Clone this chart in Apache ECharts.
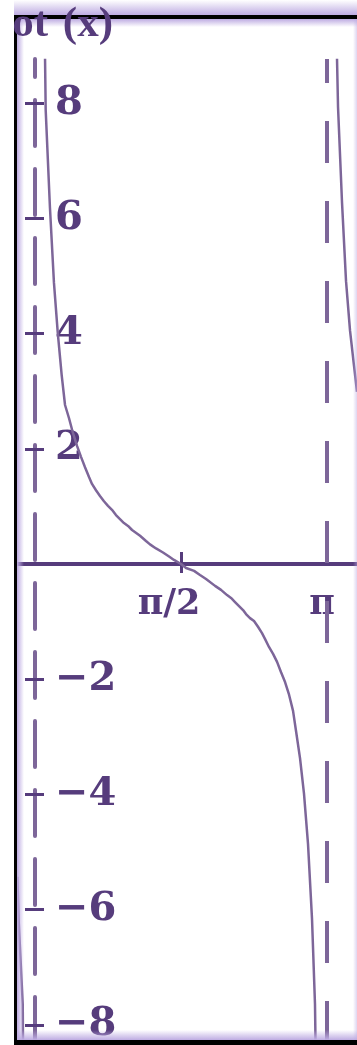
<!DOCTYPE html>
<html>
<head>
<meta charset="utf-8">
<script src="https://cdn.jsdelivr.net/npm/echarts@6/dist/echarts.min.js"></script>
<style>
  html, body { margin: 0; padding: 0; background: #ffffff; }
  #chart { width: 357px; height: 1045px; }
</style>
</head>
<body>
<div id="chart"></div>
<script>
// Branches of y = cot(x), sampled as [x (radians), y]
const branchLeft = [
  [-0.190, -5.43], [-0.175, -6.22], [-0.132, -7.64], [-0.129, -8.32]
];
const branchMain = [
  [0.108, 8.77], [0.115, 7.88], [0.161, 6.18], [0.204, 4.88], [0.244, 4.03],
  [0.287, 3.28], [0.323, 2.76], [0.366, 2.53], [0.409, 2.27], [0.452, 2.05],
  [0.495, 1.86], [0.538, 1.68], [0.581, 1.51], [0.613, 1.39], [0.656, 1.28],
  [0.699, 1.18], [0.742, 1.09], [0.785, 1.01], [0.828, 0.94], [0.871, 0.85],
  [0.914, 0.78], [0.957, 0.71], [1.001, 0.66], [1.044, 0.59], [1.130, 0.49],
  [1.194, 0.40], [1.237, 0.34], [1.302, 0.27], [1.377, 0.20], [1.442, 0.13],
  [1.495, 0.07], [1.571, 0.00], [1.625, -0.07], [1.711, -0.12], [1.775, -0.19],
  [1.840, -0.26], [1.937, -0.38], [2.001, -0.45], [2.066, -0.54], [2.109, -0.59],
  [2.152, -0.66], [2.195, -0.73], [2.238, -0.80], [2.270, -0.87], [2.313, -0.94],
  [2.356, -0.99], [2.399, -1.09], [2.442, -1.20], [2.474, -1.30], [2.517, -1.44],
  [2.561, -1.56], [2.604, -1.70], [2.647, -1.88], [2.690, -2.05], [2.733, -2.27],
  [2.776, -2.55], [2.808, -2.90], [2.851, -3.37], [2.894, -3.99], [2.937, -4.86],
  [2.980, -6.16], [3.012, -7.64], [3.018, -8.32]
];
const branchRight = [
  [3.249, 8.77], [3.260, 7.93], [3.303, 6.27], [3.346, 4.91], [3.389, 4.05],
  [3.432, 3.44], [3.464, 2.99]
];

// Vertical asymptote drawn dashed (x = 0 is the y axis itself)
const asymptoteX = [Math.PI];

// Tick positions and their labels
const yTickValues = [-8, -6, -4, -2, 2, 4, 6, 8];
const xTickValues = [Math.PI / 2, Math.PI];
const xTickLabels = ['π/2', 'π'];
const titleName = 'cot';
const titleArg = '(x)';

// Visible window
const X_MIN = -0.1937, X_MAX = 3.464;
const Y_MIN = -8.316, Y_MAX = 8.767;

const DARK = '#563c7c';
const LIGHT = '#7d6699';
const HAZE = 'rgba(190, 172, 226, 1)';
const HAZE0 = 'rgba(190, 172, 226, 0)';
const AXIS_FONT = 'DejaVu Serif';
const TITLE_FONT = 'Liberation Serif';
const GRID = { left: 17, right: 0, top: 59, bottom: 2 };

function yLabel(v) {
  return v < 0 ? '\u2212' + Math.abs(v) : String(v);
}
function xLabel(v) {
  for (let i = 0; i < xTickValues.length; i++) {
    if (Math.abs(xTickValues[i] - v) < 1e-6) {
      return i === 0 ? '{p|' + xTickLabels[i] + '}' : '{q|' + xTickLabels[i] + '}';
    }
  }
  return '';
}

const chart = echarts.init(document.getElementById('chart'), null, { renderer: 'canvas' });

const curveStyle = { color: LIGHT, width: 2.5 };
function branch(data) {
  return {
    type: 'line', data: data, showSymbol: false, smooth: false,
    lineStyle: curveStyle, clip: true, silent: true, z: 3
  };
}

const labelFont = { fontFamily: AXIS_FONT, fontWeight: 'bold', fontSize: 40, color: DARK };
const xLabelFont = { fontFamily: AXIS_FONT, fontWeight: 'bold', fontSize: 35, color: DARK };

function buildOption(xOff, yOff) {
  const xAxisBase = { type: 'value', min: X_MIN, max: X_MAX, position: 'bottom', offset: xOff,
                      splitLine: { show: false } };
  const yAxisBase = { type: 'value', min: Y_MIN, max: Y_MAX, position: 'left', offset: yOff,
                      splitLine: { show: false } };
  return {
    animation: false,
    backgroundColor: '#ffffff',
    grid: Object.assign({ containLabel: false, outerBoundsMode: 'none' }, GRID),
    xAxis: [
      Object.assign({}, xAxisBase, {
        axisLine: { show: true, onZero: false, lineStyle: { color: DARK, width: 4 } },
        axisTick: { show: true, customValues: xTickValues, inside: true, length: 12,
                    lineStyle: { color: DARK, width: 3 } },
        axisLabel: {
          show: true, customValues: xTickValues, margin: 23, formatter: xLabel,
          rich: {
            p: Object.assign({ padding: [0, 24, 0, 0] }, xLabelFont),
            q: Object.assign({ padding: [0, 10, 0, 0] }, xLabelFont)
          }
        }
      }),
      Object.assign({}, xAxisBase, {
        axisLine: { show: false, onZero: false },
        axisTick: { show: true, customValues: [xTickValues[0]], inside: false, length: 9,
                    lineStyle: { color: DARK, width: 3 } },
        axisLabel: { show: false }
      })
    ],
    yAxis: [
      Object.assign({}, yAxisBase, {
        axisLine: { show: true, onZero: false, lineStyle: { color: LIGHT, width: 4, type: [46, 23] } },
        axisTick: { show: true, customValues: yTickValues, inside: false, length: 10,
                    lineStyle: { color: DARK, width: 3 } },
        axisLabel: Object.assign({
          show: true, customValues: yTickValues, inside: true, margin: 20, formatter: yLabel,
          padding: [0, 0, 8, 0]
        }, labelFont)
      }),
      Object.assign({}, yAxisBase, {
        axisLine: { show: false, onZero: false },
        axisTick: { show: true, customValues: yTickValues, inside: true, length: 9,
                    lineStyle: { color: DARK, width: 3 } },
        axisLabel: { show: false }
      })
    ],
    series: [
      branch(branchLeft),
      Object.assign(branch(branchMain), {
        markLine: {
          silent: true, symbol: ['none', 'none'], label: { show: false },
          lineStyle: { color: LIGHT, width: 4, type: [42, 38] },
          data: asymptoteX.map(function (x) { return { xAxis: x }; })
        }
      }),
      branch(branchRight)
    ],
    graphic: [
      // soft band above the frame
      { type: 'rect', z: 90, silent: true, shape: { x: 14, y: 0, width: 343, height: 15 },
        style: { fill: new echarts.graphic.LinearGradient(0, 0, 0, 1, [
          { offset: 0, color: HAZE0 }, { offset: 1, color: HAZE }]) } },
      // soft bands inside the frame
      { type: 'rect', z: 90, silent: true, shape: { x: 17, y: 19, width: 340, height: 8 },
        style: { fill: new echarts.graphic.LinearGradient(0, 0, 0, 1, [
          { offset: 0, color: HAZE }, { offset: 1, color: HAZE0 }]) } },
      { type: 'rect', z: 90, silent: true, shape: { x: 17, y: 19, width: 7, height: 1022 },
        style: { fill: new echarts.graphic.LinearGradient(0, 0, 1, 0, [
          { offset: 0, color: HAZE }, { offset: 1, color: HAZE0 }]) } },
      { type: 'rect', z: 90, silent: true, shape: { x: 17, y: 1030, width: 340, height: 10 },
        style: { fill: new echarts.graphic.LinearGradient(0, 0, 0, 1, [
          { offset: 0, color: HAZE0 }, { offset: 1, color: HAZE }]) } },
      { type: 'rect', z: 90, silent: true, shape: { x: 353, y: 19, width: 4, height: 1022 },
        style: { fill: new echarts.graphic.LinearGradient(0, 0, 1, 0, [
          { offset: 0, color: HAZE0 }, { offset: 1, color: 'rgba(190,172,226,0.5)' }]) } },
      // frame
      { type: 'rect', z: 95, silent: true, shape: { x: 14, y: 15, width: 343, height: 4 }, style: { fill: '#000' } },
      { type: 'rect', z: 95, silent: true, shape: { x: 14, y: 15, width: 3, height: 1030 }, style: { fill: '#000' } },
      { type: 'rect', z: 95, silent: true, shape: { x: 14, y: 1040, width: 343, height: 5 }, style: { fill: '#000' } },
      // title: function name, then its argument
      { type: 'text', z: 98, silent: true, x: 113, y: 46,
        style: {
          text: '{n|' + titleName + ' }{a|' + titleArg + '}',
          textAlign: 'right', textVerticalAlign: 'bottom',
          rich: {
            n: { fontFamily: TITLE_FONT, fontWeight: 'bold', fontSize: 43, fill: DARK, padding: [0, 4, 0, 0] },
            a: { fontFamily: TITLE_FONT, fontWeight: 'bold', fontSize: 43, fill: DARK }
          }
        } },
      // blank margin left of the frame
      { type: 'rect', z: 99, silent: true, shape: { x: 0, y: 0, width: 14, height: 1045 }, style: { fill: '#fff' } }
    ]
  };
}

// First pass lays out the grid; second pass moves both axes onto the origin.
chart.setOption(buildOption(0, 0));
const origin = chart.convertToPixel({ xAxisIndex: 0, yAxisIndex: 0 }, [0, 0]);
const gridBottomY = 1045 - GRID.bottom;
const gridLeftX = GRID.left;
chart.setOption(buildOption(-(gridBottomY - origin[1]), -(origin[0] - gridLeftX)), true);
</script>
</body>
</html>
